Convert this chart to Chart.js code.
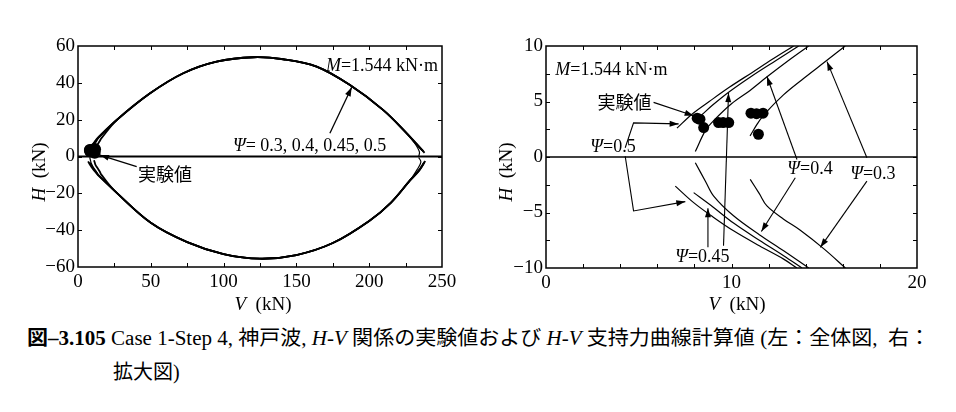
<!DOCTYPE html>
<html>
<head>
<meta charset="utf-8">
<script src="https://cdn.jsdelivr.net/npm/chart.js@4.4.1/dist/chart.umd.min.js"></script>
<style>
  body { margin: 0; width: 956px; height: 412px; overflow: hidden; background: #fff; position: relative; }
  canvas { position: absolute; top: 0; }
  #left { left: 0; }
  #right { left: 480px; }
  .cap { position: absolute; white-space: nowrap; color: #000; font-size: 20px; line-height: 24px;
         font-family: "Liberation Serif", "Noto Sans CJK JP", serif; transform-origin: 0 0; }
</style>
</head>
<body>
<canvas id="left" width="480" height="320"></canvas>
<canvas id="right" width="476" height="320"></canvas>
<div class="cap" id="cap1" style="left:27px;top:326px"><b>図–3.105</b> Case 1-Step 4, 神戸波, <i>H</i>-<i>V</i> 関係の実験値および <i>H</i>-<i>V</i> 支持力曲線計算値 (左：全体図,&nbsp; 右：</div>
<div class="cap" id="cap2" style="left:113px;top:360px">拡大図)</div>
<script>
// experimental values (V, H) in kN
const expV = [8.15, 8.3, 8.5, 9.3, 9.55, 9.85, 11.05, 11.35, 11.7, 11.45];
const expH = [3.5, 3.4, 2.65, 3.1, 3.1, 3.1, 3.95, 3.9, 3.95, 2.05];

// H-V curves near the origin: [V, H]
const up05 = [[7.06, 2.6], [7.9, 3.9], [8.8, 5.0], [9.9, 6.3], [11.1, 7.6], [12.2, 8.8], [13.35, 10]];
const up045 = [[8.4, 3.8], [9.0, 4.7], [9.9, 5.9], [11.1, 7.3], [12.4, 8.7], [13.62, 10]];
const up04 = [[8.05, 0.5], [8.6, 2.4], [9.05, 3.3], [10.0, 4.8], [11.0, 6.0], [11.9, 7.2], [13.0, 8.6], [14.16, 10]];
const up03 = [[11.0, 1.9], [11.4, 3.0], [11.8, 3.9], [12.8, 5.6], [13.9, 7.1], [15.06, 8.6], [16.13, 10]];
const lo05 = [[6.97, -2.62], [7.96, -4.11], [9.0, -5.4], [10.11, -6.65], [11.5, -8.0], [12.81, -9.2], [13.53, -10]];
const lo045 = [[7.96, -3.21], [9.0, -4.5], [10.11, -5.95], [11.5, -7.5], [12.81, -8.9], [13.8, -10]];
const lo04 = [[8.05, -0.52], [8.6, -2.2], [9.04, -3.52], [10.11, -5.3], [11.5, -7.0], [12.81, -8.45], [14.16, -10]];
const lo03 = [[11.01, -2.02], [11.5, -3.3], [11.91, -4.41], [12.81, -5.6], [13.71, -6.6], [15.0, -8.3], [16.14, -10]];

// rest of the curves (all four nearly coincide)
const upBody = [[26.6, 19.8], [49.5, 34.3], [72.3, 45.2], [95.2, 51.5], [120.4, 53.9], [141, 52.8], [163.9, 48.8], [186.8, 38.8], [209.7, 25.2], [225.8, 12.6]];
const loBody = [[25, -18.5], [50, -36], [75, -46.5], [100, -53], [125, -55.5], [150, -53.5], [175, -47], [200, -35], [215, -25], [228, -13]];
const upTail05 = [[232, 7], [237.5, 2.5]];
const upTail045 = [[232, 7.2], [237, 3]];
const upTail04 = [[231, 7.5], [234.5, 2.5], [234, 0]];
const upTail03 = [[232.5, 7], [238, 2]];
const loTail05 = [[234, -7.5], [238, -3]];
const loTail045 = [[234, -8], [237.5, -3.5]];
const loTail04 = [[233, -7], [235.5, -3], [234, -0.5]];
const loTail03 = [[234.5, -7.5], [238.5, -2.5]];

Chart.defaults.font.family = '"Liberation Serif", serif';
Chart.defaults.color = '#000';

const toPts = arr => arr.map(p => ({ x: p[0], y: p[1] }));
const minus = v => String(v).replace('-', '\u2212');

// draws a text made of parts with different styles
function drawRich(ctx, parts, x, y, align, size) {
  const fontOf = p => (p.f === 'italic' ? 'italic ' : '') + size + 'px ' + (p.cjk ? '"Noto Sans CJK JP"' : '"Liberation Serif"');
  let total = 0;
  parts.forEach(p => { ctx.font = fontOf(p); total += ctx.measureText(p.t).width; });
  let cx = align === 'right' ? x - total : align === 'center' ? x - total / 2 : x;
  ctx.textBaseline = 'middle';
  ctx.textAlign = 'left';
  parts.forEach(p => { ctx.font = fontOf(p); ctx.fillText(p.t, cx, y); cx += ctx.measureText(p.t).width; });
}

function drawArrow(ctx, pts) {
  ctx.beginPath();
  ctx.moveTo(pts[0][0], pts[0][1]);
  pts.slice(1).forEach(p => ctx.lineTo(p[0], p[1]));
  ctx.stroke();
  const [x1, y1] = pts[pts.length - 2], [x2, y2] = pts[pts.length - 1];
  const a = Math.atan2(y2 - y1, x2 - x1);
  ctx.beginPath();
  ctx.moveTo(x2, y2);
  ctx.lineTo(x2 - 9 * Math.cos(a) + 3 * Math.sin(a), y2 - 9 * Math.sin(a) - 3 * Math.cos(a));
  ctx.lineTo(x2 - 9 * Math.cos(a) - 3 * Math.sin(a), y2 - 9 * Math.sin(a) + 3 * Math.cos(a));
  ctx.closePath();
  ctx.fill();
}

// frame, inward ticks, zero line, notes and axis titles
const decor = {
  id: 'decor',
  afterDatasetsDraw(chart, args, o) {
    const { ctx, chartArea: a, scales: { x, y } } = chart;
    ctx.save();
    ctx.strokeStyle = '#000';
    ctx.fillStyle = '#000';
    const y0 = y.getPixelForValue(0);
    ctx.lineWidth = o.zeroWidth;
    ctx.beginPath(); ctx.moveTo(a.left, y0); ctx.lineTo(a.right, y0); ctx.stroke();
    ctx.lineWidth = 1.5;
    ctx.strokeRect(a.left, a.top, a.right - a.left, a.bottom - a.top);
    ctx.lineWidth = 1;
    for (let v = x.min + o.xMinor; v < x.max - 1e-9; v += o.xMinor) {
      const px = Math.round(x.getPixelForValue(v)) + 0.5;
      ctx.beginPath();
      ctx.moveTo(px, a.bottom); ctx.lineTo(px, a.bottom - 4);
      ctx.moveTo(px, a.top); ctx.lineTo(px, a.top + 4);
      ctx.stroke();
    }
    for (let v = y.min + o.yMinor; v < y.max - 1e-9; v += o.yMinor) {
      const py = Math.round(y.getPixelForValue(v)) + 0.5;
      ctx.beginPath();
      ctx.moveTo(a.left, py); ctx.lineTo(a.left + 4, py);
      ctx.moveTo(a.right, py); ctx.lineTo(a.right - 4, py);
      ctx.stroke();
    }
    ctx.lineWidth = o.arrowWidth;
    o.arrows.forEach(pts => drawArrow(ctx, pts.map(p => [x.getPixelForValue(p[0]), y.getPixelForValue(p[1])])));
    o.notes.forEach(n => drawRich(ctx, n.parts, x.getPixelForValue(n.at[0]), y.getPixelForValue(n.at[1]), n.align, 18));
    // axis titles
    drawRich(ctx, [{ t: 'V', f: 'italic' }, { t: '  (kN)' }], o.xTitle[0], o.xTitle[1], 'center', 19);
    ctx.translate(o.yTitle[0], o.yTitle[1]);
    ctx.rotate(-Math.PI / 2);
    drawRich(ctx, [{ t: 'H', f: 'italic' }, { t: '  (kN)' }], 0, 0, 'center', 19);
    ctx.restore();
  }
};

function curve(data, width) {
  return { data: toPts(data), showLine: true, borderColor: '#000', borderWidth: width, pointRadius: 0, tension: 0.35, fill: false };
}
function dots(r) {
  return { data: expV.map((v, i) => ({ x: v, y: expH[i] })), showLine: false, pointRadius: r, pointBackgroundColor: '#000', pointBorderColor: '#000', borderWidth: 0 };
}

function makeChart(id, cfg) {
  return new Chart(document.getElementById(id), {
    type: 'scatter',
    data: { datasets: cfg.datasets },
    options: {
      responsive: false, animation: false, devicePixelRatio: 1,
      layout: { padding: { top: 46, right: cfg.padRight, left: 0, bottom: 0 } },
      plugins: { legend: { display: false }, tooltip: { enabled: false }, decor: cfg.decor },
      scales: {
        x: {
          type: 'linear', min: cfg.xMin, max: cfg.xMax,
          grid: { display: false, drawTicks: false, tickLength: 0 }, border: { display: false },
          ticks: { stepSize: cfg.xStep, padding: 4, font: { size: 19 }, color: '#000', callback: v => minus(v) },
          afterFit: s => { s.height = cfg.xHeight; }
        },
        y: {
          type: 'linear', min: cfg.yMin, max: cfg.yMax,
          grid: { display: false, drawTicks: false, tickLength: 0 }, border: { display: false },
          ticks: { stepSize: cfg.yStep, padding: 3, font: { size: 19 }, color: '#000', callback: v => minus(v) },
          afterFit: s => { s.width = cfg.yWidth; }
        }
      }
    },
    plugins: [decor]
  });
}

const psiNote = t => [{ t: 'Ψ', f: 'italic' }, { t: t }];

// whole view
makeChart('left', {
  xMin: 0, xMax: 250, xStep: 50, yMin: -60, yMax: 60, yStep: 20,
  padRight: 38, xHeight: 53, yWidth: 78,
  datasets: [
    curve(up05.concat(upBody, upTail05), 1.8), curve(lo05.concat(loBody, loTail05), 1.8),
    curve(up045.concat(upBody, upTail045), 1.8), curve(lo045.concat(loBody, loTail045), 1.8),
    curve(up04.concat(upBody, upTail04), 1.2), curve(lo04.concat(loBody, loTail04), 1.2),
    curve(up03.concat(upBody, upTail03), 1.8), curve(lo03.concat(loBody, loTail03), 1.8),
    dots(6)
  ],
  decor: {
    zeroWidth: 2, xMinor: 25, yMinor: 20, arrowWidth: 1.3,
    xTitle: [263, 305], yTitle: [40, 172],
    arrows: [[[173, 12.6], [188, 37.6]], [[40.3, -5.5], [15.1, 0.8]]],
    notes: [
      { parts: [{ t: 'M', f: 'italic' }, { t: '=1.544 kN·m' }], at: [247.3, 48.8], align: 'right' },
      { parts: psiNote('= 0.3, 0.4, 0.45, 0.5'), at: [106.5, 5.8], align: 'left' },
      { parts: [{ t: '実験値', cjk: true }], at: [41.2, -9.5], align: 'left' }
    ]
  }
});

// enlarged view
makeChart('right', {
  xMin: 0, xMax: 20, xStep: 10, yMin: -10, yMax: 10, yStep: 5,
  padRight: 39, xHeight: 52, yWidth: 66,
  datasets: [
    curve(up05, 1.2), curve(lo05, 1.2), curve(up045, 1.2), curve(lo045, 1.2),
    curve(up04, 1.2), curve(lo04, 1.2), curve(up03, 1.2), curve(lo03, 1.2),
    dots(5.5)
  ],
  decor: {
    zeroWidth: 1.5, xMinor: 2, yMinor: 2.5, arrowWidth: 1.1,
    xTitle: [257, 305], yTitle: [27, 172],
    arrows: [
      [[5.8, 4.92], [7.96, 3.72]],
      [[4.27, 0.83], [4.72, 3.07], [7.15, 2.98]],
      [[4.27, 0.07], [4.72, -4.86], [7.51, -4.02]],
      [[8.73, -8.14], [8.73, -4.62]],
      [[9.57, -8.0], [9.84, 5.76]],
      [[13.53, -0.22], [11.91, 7.25]],
      [[13.44, -1.87], [11.61, -6.71]],
      [[17.3, -0.07], [15.15, 8.59]],
      [[17.3, -2.17], [14.79, -8.14]]
    ],
    notes: [
      { parts: [{ t: 'M', f: 'italic' }, { t: '=1.544 kN·m' }], at: [0.5, 7.85], align: 'left' },
      { parts: [{ t: '実験値', cjk: true }], at: [2.77, 4.98], align: 'left' },
      { parts: psiNote('=0.5'), at: [2.39, 0.85], align: 'left' },
      { parts: psiNote('=0.45'), at: [6.97, -9.0], align: 'left' },
      { parts: psiNote('=0.4'), at: [13.01, -1.12], align: 'left' },
      { parts: psiNote('=0.3'), at: [16.4, -1.57], align: 'left' }
    ]
  }
});

// fit the caption's first line to the width it has in the figure
const cap1 = document.getElementById('cap1');
const w = cap1.getBoundingClientRect().width;
cap1.style.transform = 'scaleX(' + (903 / w) + ')';
</script>
</body>
</html>
